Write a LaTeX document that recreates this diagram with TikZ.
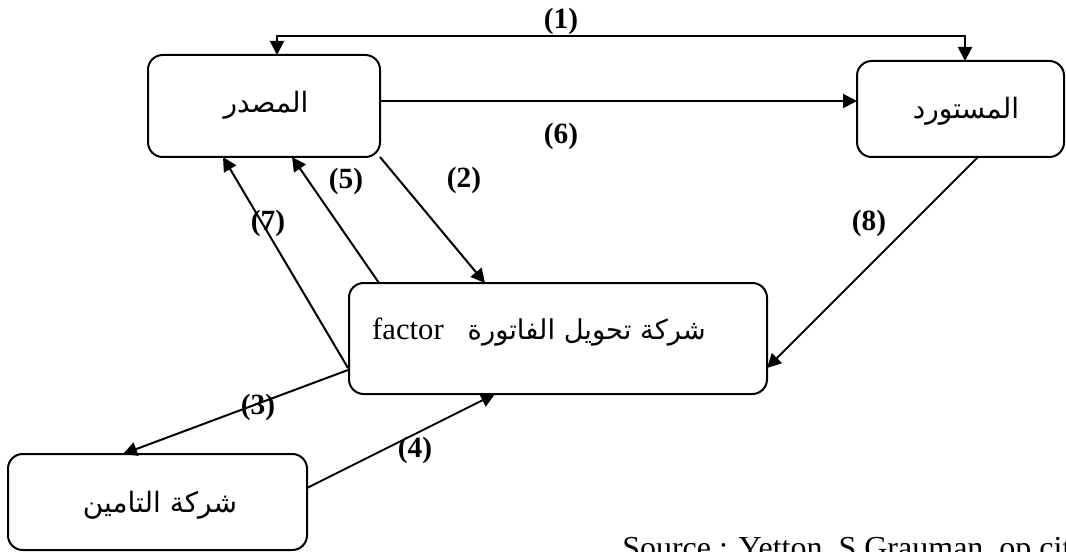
\documentclass[tikz,border=0pt]{standalone}
\usepackage{fontspec}
\setmainfont{Liberation Serif}
\newfontfamily\arabicfont[Script=Arabic]{DejaVu Sans}
\TeXXeTstate=1
\usetikzlibrary{arrows.meta,calc}

\begin{document}
\begin{tikzpicture}[x=0.75pt,y=-0.75pt,
  >={Triangle[length=10.5pt,width=10.5pt]},
  box/.style={draw, line width=1.5pt, rounded corners=11pt, inner sep=0pt, outer sep=0pt},
  link/.style={line width=1.5pt},
  num/.style={font=\fontsize{22}{26}\selectfont\bfseries, inner sep=0pt},
  ar/.style={font=\arabicfont\fontsize{21}{25}\selectfont, inner sep=0pt}]
\clip (0,0) rectangle (1066,552);

% the four parties
\node[box, minimum width=174pt, minimum height=76.5pt] (exp) at (264,106) {};
\node[box, minimum width=155.25pt, minimum height=72pt] (dest) at (960.5,109) {};
\node[box, minimum width=313.5pt, minimum height=83.25pt] (fac) at (558,338.5) {};
\node[box, minimum width=224.25pt, minimum height=72pt] (ins) at (157.5,502) {};

\node[ar] (expt) at (266,105) {\beginR المصدر\endR};
\node[ar] (destt) at (966,111) {\beginR المستورد\endR};
\node[ar] (inst) at (160,505) {\beginR شركة التامين\endR};
\node[inner sep=0pt] (fact) at (539,332)
  {{\fontsize{23}{28}\selectfont factor}\hspace{18pt}{\arabicfont\fontsize{20.5}{25}\selectfont\beginR شركة تحويل الفاتورة\endR}};

% flows between the parties
\draw[link,<->] ($(exp.north west)+(129,0)$) -- ++(0,-19) -| ($(dest.north west)+(108,0)$);
\coordinate (o6) at ($(exp.east)+(0,-5)$);
\draw[link,->] (o6) -- (o6 -| dest.west);
\draw[link,->] (exp.south east) -- ($(fac.north west)+(136,0)$);
\draw[link,->] ($(fac.north west)+(30,0)$) -- ($(exp.south west)+(144,0)$);
\draw[link,->] ($(fac.north west)+(-1,85)$) -- ($(exp.south west)+(75,0)$);
\draw[link,->] ($(fac.north west)+(-1,87)$) -- ($(ins.north west)+(115,0)$);
\draw[link,->] ($(ins.north east)+(0,34)$) -- ($(fac.south west)+(146,0)$);
\draw[link,->] ($(dest.south west)+(121,0)$) -- ($(fac.north east)+(0,85)$);

% flow numbers
\node[num] (n1) at (561,21) {(1)};
\node[num] (n6) at (561,136) {(6)};
\node[num] (n5) at (346,181) {(5)};
\node[num] (n2) at (464,180) {(2)};
\node[num] (n7) at (268,223) {(7)};
\node[num] (n8) at (869,223) {(8)};
\node[num] (n3) at (258,407) {(3)};
\node[num] (n4) at (415,450) {(4)};

\node[anchor=base west, font=\fontsize{24}{28}\selectfont, inner sep=0pt] (src) at (622,558)
  {Source : Yetton, S Grauman, op.cit};
\end{tikzpicture}
\end{document}
